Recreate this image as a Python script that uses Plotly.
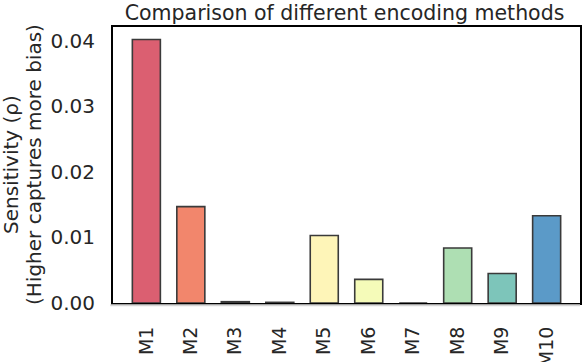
import plotly.graph_objects as go

# ---- data -----------------------------------------------------------------
METHODS = ["M1", "M2", "M3", "M4", "M5", "M6", "M7", "M8", "M9", "M10"]
SENSITIVITY = [0.0402, 0.0147, 0.0002, 0.0001, 0.0103, 0.0036, 0.0, 0.0084, 0.0045, 0.0133]
COLORS = ["#DB5F71", "#F2866C", "#FBB870", "#FDDF90", "#FEF5B8",
          "#F5FBB9", "#D9EFA0", "#AEDFB3", "#7DC5BA", "#5B9AC8"]
YTITLE = ["Sensitivity (ρ)", "(Higher captures more bias)"]

TXT = "#262626"
FONT = "DejaVu Sans"
L, R, T, B = 113, 4, 27, 59
PW = 584 - L - R

fig = go.Figure(go.Bar(
    x=METHODS, y=SENSITIVITY, width=0.63,
    marker=dict(color=COLORS, line=dict(color="#3a3a3a", width=1.6)),
))

# two-line y title as rotated annotations (tighter line spacing than plotly's <br>)
for px, line in zip([11, 34], YTITLE):
    fig.add_annotation(text=line, xref="paper", yref="paper", x=(px - L) / PW, y=0.5,
                       xanchor="center", yanchor="middle", textangle=-90, showarrow=False,
                       font=dict(size=20, color=TXT))

# faint shadow under the frame
fig.add_shape(type="line", xref="paper", yref="paper", x0=-0.006, x1=1.0, y0=-0.008, y1=-0.008,
              line=dict(color="#d6d6d6", width=2))

fig.update_layout(
    width=584, height=362,
    paper_bgcolor="white", plot_bgcolor="white",
    font=dict(family=FONT, color=TXT, size=20),
    margin=dict(l=L, r=R, t=T, b=B),
    showlegend=False,
    title=dict(text="Comparison of different encoding methods", x=0.59, xanchor="center",
               y=0.964, yanchor="middle", font=dict(size=20.5, color=TXT)),
)
fig.update_xaxes(range=[-0.75, 9.75], tickangle=-90, showgrid=False, zeroline=False,
                 showline=True, linecolor="black", linewidth=2, mirror=True,
                 ticks="outside", ticklen=14, tickcolor="white", automargin=False,
                 tickfont=dict(size=19, color=TXT))
fig.update_yaxes(range=[0, 0.0421], tickvals=[0, 0.01, 0.02, 0.03, 0.04],
                 tickformat=".2f", showgrid=False, zeroline=False,
                 showline=True, linecolor="black", linewidth=2, mirror=True,
                 ticks="outside", ticklen=12, tickcolor="white", automargin=False,
                 tickfont=dict(size=20, color=TXT))

# drop the browser's default body margin so the 584x362 figure sits flush in the window
fig.write_html("out.html", config={"displayModeBar": False},
               post_script="document.body.style.margin='0';"
                           "document.body.style.overflow='hidden';")
